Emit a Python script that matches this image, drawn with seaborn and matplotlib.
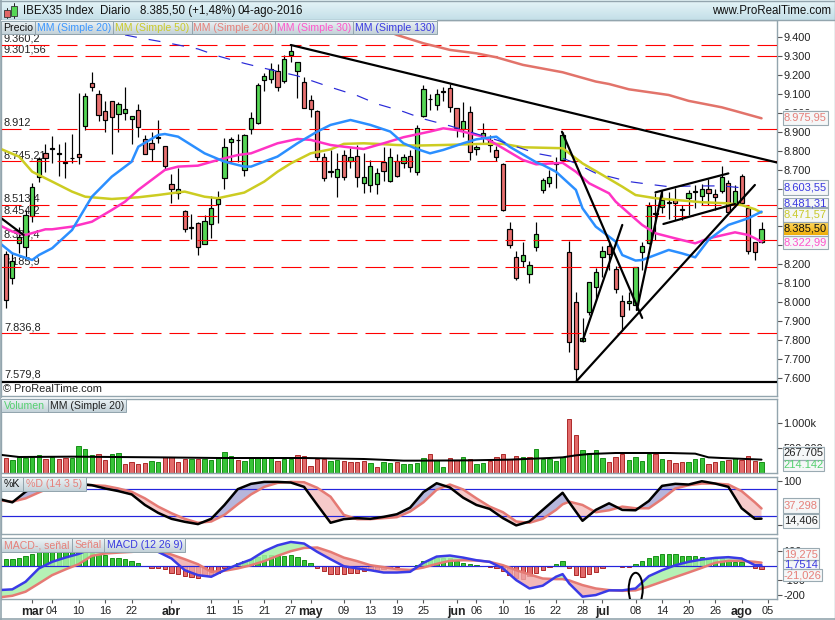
import numpy as np
import matplotlib
matplotlib.use("Agg")
import matplotlib.pyplot as plt
from matplotlib.patches import Rectangle, Ellipse
import seaborn as sns

W, H = 835, 620

# ---------- data ----------
opens = [8253,8126,8311,8290,8455,8660,8786,8810,8785,8738,8761,8781,8931,9156,9098,9012,9061,8992,9001,8966,
         9013,8860,8839,8868,8827,8624,8578,8480,8394,8417,8306,8411,8517,8658,8848,8856,8698,8913,8945,9175,
         9180,9222,9170,9304,9223,9161,9066,9008,8765,8695,8660,8776,8748,8770,8628,8621,8623,8739,8642,8744,
         8733,8774,8686,8985,9075,9041,9111,9129,9024,8916,9003,8807,8871,8857,8802,8728,8385,8237,8216,8147,
         8290,8593,8631,8735,8751,8264,7999,7797,7947,8079,8237,8299,8175,8005,7994,7985,8264,8311,8471,8505,
         8529,8540,8490,8552,8582,8563,8600,8570,8589,8628,8519,8667,8496,8316,8320]
closes = [8010,8216,8346,8459,8607,8758,8763,8812,8783,8736,8763,8765,9087,9138,8987,8962,8976,9048,9019,8985,
          8924,8784,8807,8870,8721,8600,8596,8385,8396,8290,8427,8496,8543,8818,8860,8854,8883,8971,9145,9193,
          9230,9135,9283,9328,9267,9024,9020,8765,8654,8686,8702,8660,8769,8660,8660,8719,8681,8695,8769,8668,
          8769,8712,8918,9124,9071,9100,9115,9029,8918,8955,8795,8821,8892,8828,8765,8487,8301,8126,8248,8198,
          8359,8644,8663,8731,8883,7788,7646,7809,8105,8161,8269,8253,8068,7927,8005,8184,8299,8508,8467,8540,
          8525,8522,8486,8575,8586,8596,8575,8557,8663,8475,8587,8522,8272,8264,8385]
highs = [8271,8258,8399,8487,8631,8769,8835,8878,8834,8846,8888,9103,9103,9214,9121,9062,9061,9059,9135,8985,
         9047,8883,8901,8962,8827,8677,8707,8487,8466,8425,8461,8561,8587,8865,8874,8886,8886,9003,9159,9212,
         9261,9256,9305,9358,9270,9191,9092,9015,8790,8804,8786,8804,8813,8830,8786,8751,8707,8821,8813,8783,
         8783,8804,8936,9147,9100,9124,9135,9152,9024,9059,9036,8830,8948,8883,8827,8733,8422,8271,8318,8218,
         8422,8655,8698,8769,8901,8325,8052,7915,8105,8179,8297,8311,8191,8038,8056,8184,8320,8527,8578,8584,
         8584,8601,8513,8593,8619,8624,8649,8596,8719,8645,8619,8677,8513,8320,8422]
lows = [7968,8098,8262,8227,8422,8637,8689,8733,8667,8658,8737,8728,8909,9117,8959,8901,8781,8901,8962,8835,
        8874,8783,8744,8839,8698,8526,8545,8373,8336,8251,8306,8339,8420,8596,8733,8739,8667,8886,8941,9117,
        9156,9117,9159,9270,9080,9024,8976,8751,8640,8660,8558,8645,8707,8610,8578,8584,8572,8642,8637,8663,
        8707,8686,8672,8976,9015,9015,9064,9006,8874,8874,8751,8777,8839,8795,8746,8482,8288,8117,8184,8103,
        8271,8576,8607,8601,8751,7739,7590,7790,7933,8012,8135,8170,8047,7853,7959,7959,8170,8307,8329,8469,
        8438,8434,8434,8461,8496,8513,8513,8487,8578,8473,8505,8513,8253,8223,8315]

sma20_bars = [-1,1,4,5,7,10,13,16,19,20,23,24,26,30,33,36,37,41,44,47,49,52,55,58,60,62,64,66,69,71,74,76,80,81,83,86,87,89,92,93,95,96,100,102,104,106,109,112,114]
sma20_vals = [8315,8258,8223,8249,8285,8381,8557,8663,8742,8821,8883,8888,8874,8786,8742,8716,8716,8769,8839,8901,8936,8962,8936,8901,8839,8809,8786,8804,8839,8860,8874,8821,8739,8725,8689,8593,8496,8399,8320,8249,8220,8223,8276,8258,8237,8329,8408,8443,8478]
sma50_bars = [-1,2,4,7,10,12,16,20,23,26,27,30,32,36,39,41,43,46,49,51,54,56,59,62,66,72,75,78,84,87,90,93,95,98,101,105,109,111,113,114]
sma50_vals = [8813,8769,8689,8637,8584,8557,8545,8554,8566,8580,8584,8557,8549,8579,8637,8689,8733,8786,8807,8836,8839,8836,8830,8827,8830,8836,8836,8818,8813,8733,8672,8610,8566,8549,8540,8528,8522,8513,8491,8473]
sma30_bars = [-1,1,3,6,7,10,13,16,18,20,24,26,29,32,35,37,41,44,46,49,51,54,57,60,64,66,68,72,75,78,80,84,86,88,91,92,94,96,98,101,104,106,110,112,114]
sma30_vals = [8408,8373,8355,8385,8385,8399,8425,8487,8531,8593,8698,8716,8721,8751,8777,8786,8839,8862,8857,8830,8821,8809,8839,8871,8901,8918,8909,8874,8813,8751,8728,8736,8689,8628,8575,8531,8469,8408,8364,8337,8311,8337,8369,8355,8320]
sma200_bars = [55,59,63,67,71,74,78,84,89,91,94,100,103,108,110,114]
sma200_vals = [9470,9411,9367,9332,9314,9293,9253,9214,9165,9152,9124,9094,9063,9029,9010,8971]
sma130_bars = [18,20,24,29,32,36,39,44,49,53,56,60,63,67,74,80,84,86,89,94,97,100,104,108,112]
sma130_vals = [9411,9397,9372,9337,9300,9261,9235,9195,9135,9091,9047,9006,8968,8931,8857,8786,8760,8733,8681,8637,8623,8610,8614,8614,8601]

level_vals = [9360.2,9301.56,8912,8745.21,8513.4,8454.2,8328.4,8185.9,7836.8]
level_txt = ["9.360,2","9.301,56","8.912","8.745,21","8.513,4","8.454,2","8.328,4","8.185,9","7.836,8"]
support_val = 7579.8
# trend lines: (bar, price, bar, price)
trend_lines = [(43,9358,116.4,8737),(-1,8452,2.7,8355),(83.9,8900,96,7917),(87,7795,93,8408),
               (86.1,7584,113,8619),(95.2,7959,99,8583),(98,8580,109,8680),(99.2,8413,110,8519)]

volume = [300,260,320,300,327,360,280,313,287,300,300,540,480,360,380,260,380,400,180,220,
          180,200,247,227,320,320,227,287,287,287,287,260,320,420,340,267,247,300,300,320,
          300,247,287,287,360,340,140,287,287,247,267,247,220,220,247,200,120,220,207,220,
          180,180,200,300,380,260,120,300,260,320,280,180,200,247,320,380,280,340,320,320,
          480,280,280,247,320,1080,767,460,400,460,300,220,320,380,260,320,247,380,380,280,
          260,200,220,220,280,300,180,220,247,267,300,267,340,247,214]
vol_dir = "rgggggrgrr"+"ggggrrggrr"+"rrggrrrrgr"+"gggggrgggg"+"grggrrrrrg"+"grrrrgrggr"+"ggggrggrrg"+"rggrrrrrgr"+"gggggrrggg"+"grrrggggrg"+"rrrgggrrgr"+"grrrg"
volma_bars = [-1,2,10,23,32,45,54,60,62,70,76,82,84,86,88,92,100,104,106,108,114]
volma_vals = [367,320,327,313,300,300,280,247,247,253,267,300,313,353,380,400,400,387,313,300,267.7]

osc_bars = [-1,1,3,5,7,9,11,13,15,17,19,21,23,25,27,29,31,33,35,37,39,41,43,45,47,49,51,53,55,57,59,61,63,65,67,69,71,73,75,77,79,81,83,84,85,87,89,91,93,95,97,99,101,103,105,107,109,111,113,114]
pct_k = [58.5,51.1,74.8,91.1,95.6,95.6,92.6,89.6,82.2,76.3,68.9,45.2,27.4,14.1,7.4,2.2,14.1,45.2,80.7,92.6,97,97,95.6,85.9,45.2,5.2,13.3,15.6,14.1,18.5,24.4,39.3,74,94,84.4,61.5,45.2,36.3,15.6,-0.7,8.1,34.1,60,72.6,51.1,9.6,34.1,48.9,34.1,33.3,54.1,88.1,92.6,91.1,98.5,93.3,85.9,37.8,14.1,14.4]
pct_d = [55.6,52.6,60,73.3,85.9,91.1,90.4,89.6,88.1,82.2,74.8,60,41.5,26.7,14.1,5.2,8.1,23,46.7,68.9,85.9,94.8,97,96.3,83.7,63.7,23,13.3,13.3,15.6,17.8,30.4,51.1,79.3,91.1,80,60,41.5,28.9,8.1,5.2,14.1,34.1,46.7,52.6,45.2,28.9,33.3,41.5,37.8,37.8,58.5,82.2,89.6,93.3,93.3,91.1,76.3,51.1,37.3]
macd = [-168,-163,-111,-20,25,54,79,116,138,150,161,150,93,48,-32,-66,-77,-32,7,41,98,138,161,150,93,43,-5,-20,-32,-48,-48,-43,18,61,68,54,36,25,-20,-100,-157,-138,-77,-59,-123,-213,-202,-170,-170,-157,-73,-32,2,25,41,52,57,48,2,1.75]
signal = [-218,-207,-179,-123,-66,-27,9,66,82,88,93,100,98,75,43,9,-43,-36,-20,2,30,66,98,120,123,93,54,30,2,-11,-25,-30,-14,11,32,36,34,25,2,-32,-61,-89,-93,-93,-102,-134,-157,-168,-173,-170,-143,-111,-79,-48,-16,18,32,32,25,19.3]
hist = [43,43,54,68,82,93,104,104,104,104,98,93,93,86,82,70,54,50,45,30,
        14,-2,-14,-18,-27,-50,-59,-70,-77,-84,-70,-66,-50,-16,-1,18,32,43,57,70,
        75,66,66,70,61,36,14,-14,-36,-61,-61,-61,-52,-54,-36,-32,-32,-27,-16,-9,
        -5,-2,2,32,41,48,52,48,32,20,9,1,-5,-9,-16,-36,-66,-84,-89,-73,
        -54,-34,-9,9,34,-20,-68,-77,-61,-43,-16,-1,-1,-7,-9,7,30,54,68,77,
        82,77,68,68,68,61,54,52,48,36,23,23,-5,-20,-21]

x_tick_bars = [4,7,11,15,19,25,31,35,39,43,46,51,55,59,63,68,71,75,79,83,87,90,95,99,103,107,111,115]
x_tick_txt = ["mar","04","10","16","22","abr","11","15","21","27","may","09","13","19","25","jun","06","10","16","22","28","jul","08","14","20","26","ago","05"]
months = {"mar","abr","may","jun","jul","ago"}

price_ticks = list(range(7600, 9401, 100))

# ---------- style ----------
sns.set_theme(style="white")
plt.rcParams['font.family'] = ['Liberation Sans', 'DejaVu Sans']
plt.rcParams['lines.scale_dashes'] = False
FS = 7.9
GRID = "#93a5ae"
C_UP, C_DN = "#55d655", "#e87070"
px = 0.72

fig = plt.figure(figsize=(W/100, H/100), dpi=100, facecolor="white")
def panel(x0, y0, x1, y1):
    ax = fig.add_axes([x0/W, 1-y1/H, (x1-x0)/W, (y1-y0)/H])
    ax.set_facecolor("white")
    for s in ax.spines.values():
        s.set_color(GRID); s.set_linewidth(1*px*1.4)
    ax.spines['top'].set_visible(True)
    return ax

ax_p = panel(1, 20, 777, 396)
ax_v = panel(1, 399, 777, 473)
ax_s = panel(1, 477, 777, 534)
ax_m = panel(1, 538, 777, 599)
XLIM = ((1-5.7)/6.63, (777-5.7)/6.63)

def line(ax, b, v, color, lw=2.5, **kw):
    sns.lineplot(x=b, y=v, color=color, linewidth=lw*px, ax=ax, errorbar=None, sort=False, **kw)

# ---------- price panel ----------
bars = np.arange(len(opens))
for lv, t in zip(level_vals, level_txt):
    ax_p.annotate(t, (XLIM[0], lv), xytext=(3, 1), textcoords='offset pixels', va='bottom', ha='left',
                  fontsize=FS, color="#222222", zorder=1)
ax_p.annotate("7.579,8", (XLIM[0], support_val), xytext=(3, 2), textcoords='offset pixels', va='bottom',
              ha='left', fontsize=FS, color="#222222", zorder=1)
o, c, h, l = map(np.array, (opens, closes, highs, lows))
ax_p.vlines(bars, l, h, color="black", lw=1*px*1.2, zorder=2)
up = c >= o
tops, bots = np.maximum(o, c), np.minimum(o, c)
ax_p.bar(bars, np.maximum(tops-bots, 3), bottom=bots, width=0.64,
         color=[C_UP if u else C_DN for u in up], edgecolor="black", linewidth=1.2*px, zorder=3)
for lv in level_vals:
    ax_p.axhline(lv, color="#ff0000", lw=1.1*px, dashes=(20*px, 8*px), zorder=4)
line(ax_p, sma200_bars, sma200_vals, "#e2736a", zorder=5)
line(ax_p, sma50_bars, sma50_vals, "#cccc22", zorder=5)
line(ax_p, sma30_bars, sma30_vals, "#ff33c4", zorder=5)
line(ax_p, sma20_bars, sma20_vals, "#2b8fff", zorder=5)
sns.lineplot(x=sma130_bars, y=sma130_vals, color="#2a2ad8", linewidth=1.2*px, ax=ax_p, errorbar=None,
             dashes=False, zorder=5).lines[-1].set_dashes((12*px, 12*px))
for x0, y0, x1, y1 in trend_lines:
    line(ax_p, [x0, x1], [y0, y1], "black", lw=2.2, zorder=6)
ax_p.axhline(support_val, color="black", lw=2.2*px, zorder=6)
ax_p.set_ylim(7600-18*5.279, 7600+358*5.279)
ax_p.set_yticks(price_ticks)
ax_p.set_yticklabels([f"{p//1000}.{p%1000:03d}" for p in price_ticks])
for lab, p in zip(ax_p.get_yticklabels(), price_ticks):
    if p == 8000:
        lab.set_fontweight("bold"); lab.set_fontsize(FS+0.9)

# ---------- volume panel ----------
vbars = np.arange(len(volume))
d = np.array(list(vol_dir)); vv = np.array(volume)
sns.barplot(x=vbars[d == 'g'], y=vv[d == 'g'], color="#37c437", native_scale=True, width=0.66, saturation=1,
            edgecolor="#0d8a0d", linewidth=0.9*px, errorbar=None, ax=ax_v)
sns.barplot(x=vbars[d == 'r'], y=vv[d == 'r'], color="#e26a6a", native_scale=True, width=0.66, saturation=1,
            edgecolor="#a81e1e", linewidth=0.9*px, errorbar=None, ax=ax_v)
line(ax_v, volma_bars, volma_vals, "black", lw=2.0, zorder=5)
ax_v.set_ylim(0, 1480)
ax_v.set_yticks([500, 1000]); ax_v.set_yticklabels(["500.000", "1.000k"])

# ---------- stochastic panel ----------
kk, dd = np.array(pct_k), np.array(pct_d)
ax_s.fill_between(osc_bars, kk, dd, where=kk >= dd, interpolate=True, color="#b6b6dc", lw=0, zorder=1)
ax_s.fill_between(osc_bars, kk, dd, where=kk <= dd, interpolate=True, color="#f6caca", lw=0, zorder=1)
ax_s.axhline(80, color="#2424dc", lw=1.2*px, zorder=2)
ax_s.axhline(20, color="#2424dc", lw=1.2*px, zorder=2)
line(ax_s, osc_bars, pct_d, "#e57a74", zorder=3)
line(ax_s, osc_bars, pct_k, "black", zorder=4)
ax_s.set_ylim(-20, 108)
ax_s.set_yticks([0, 100]); ax_s.set_yticklabels(["0", "100"])
ax_s.get_yticklabels()[1].set_fontweight("bold"); ax_s.get_yticklabels()[1].set_fontsize(FS+0.9)

# ---------- MACD panel ----------
hh = np.array(hist); hb = np.arange(len(hist))
sns.barplot(x=hb[hh >= 0], y=hh[hh >= 0], color="#37c437", native_scale=True, width=0.66, saturation=1,
            edgecolor="#0d8a0d", linewidth=0.9*px, errorbar=None, ax=ax_m)
sns.barplot(x=hb[hh < 0], y=hh[hh < 0], color="#e26a6a", native_scale=True, width=0.66, saturation=1,
            edgecolor="#a81e1e", linewidth=0.9*px, errorbar=None, ax=ax_m)
mm, ss = np.array(macd), np.array(signal)
ax_m.fill_between(osc_bars, mm, ss, where=mm >= ss, interpolate=True, color="#a8f0a8", alpha=0.85, lw=0, zorder=3)
ax_m.fill_between(osc_bars, mm, ss, where=mm <= ss, interpolate=True, color="#f0a8a8", alpha=0.8, lw=0, zorder=3)
ax_m.axhline(0, color="#2424dc", lw=1.2*px, zorder=4)
line(ax_m, osc_bars, signal, "#e57a74", zorder=5)
line(ax_m, osc_bars, macd, "#3a3ae6", zorder=6)
ax_m.set_ylim(-229, 188)
ax_m.set_yticks([-200, -100, 100]); ax_m.set_yticklabels(["-200", "-100", "100"])

# ---------- shared axis formatting ----------
for ax in (ax_p, ax_v, ax_s, ax_m):
    ax.set_xlim(*XLIM)
    ax.set_xlabel(""); ax.set_ylabel("")
    ax.yaxis.tick_right()
    ax.tick_params(axis='y', right=True, left=False, length=3.5, width=0.8, color="#555555",
                   labelsize=FS, pad=1, labelcolor="#222222")
    if ax is not ax_m:
        ax.tick_params(axis='x', bottom=False, labelbottom=False)
ax_m.set_xticks(x_tick_bars)
ax_m.set_xticklabels(x_tick_txt)
ax_m.tick_params(axis='x', bottom=True, length=3, width=0.8, color="#555555", labelsize=FS, pad=2, labelcolor="#222222")
for lab in ax_m.get_xticklabels():
    if lab.get_text() in months:
        lab.set_fontweight("bold"); lab.set_fontsize(FS+0.9)

# ---------- chrome drawn in figure pixels ----------
ov = fig.add_axes([0, 0, 1, 1], zorder=20)
ov.set_axis_off(); ov.patch.set_alpha(0)
ov.set_xlim(0, W); ov.set_ylim(H, 0); ov.set_autoscale_on(False)

def grad(x0, y0, x1, y1, top, bottom, z=1):
    t = np.array(matplotlib.colors.to_rgb(top)); b = np.array(matplotlib.colors.to_rgb(bottom))
    arr = np.linspace(0, 1, 24)[:, None, None]*(b-t)+t
    ov.imshow(arr, extent=(x0, x1, y1, y0), aspect='auto', origin='upper', zorder=z, interpolation='bilinear')

def tab(x0, x1, y0, y1, text, color):
    grad(x0, y0, x1, y1, "#eef4f6", "#c4d2d9", z=2)
    ov.add_patch(Rectangle((x0, y0), x1-x0, y1-y0, fc="none", ec=GRID, lw=1*px, zorder=3))
    ov.text((x0+x1)/2, (y0+y1)/2, text, color=color, fontsize=FS-0.3, ha='center', va='center', zorder=4)

def vbox(y0, y1, text, color, x0=782.7, x1=827.7, top="#f5f7f8", bottom="#f5f7f8"):
    grad(x0, y0, x1, y1, top, bottom, z=2)
    ov.add_patch(Rectangle((x0, y0), x1-x0, y1-y0, fc="none", ec="#9aaab2", lw=1.1*px, zorder=3))
    ov.text((x0+x1)/2, (y0+y1)/2, text, color=color, fontsize=FS+0.1, ha='center', va='center', zorder=4)

# header
grad(0, 0, W, 20, "#e6f5f8", "#c4dfe8", z=1)
ov.plot([0, W], [0.5, 0.5], color=GRID, lw=1, zorder=2)
ov.plot([0, W], [20, 20], color=GRID, lw=1, zorder=2)
ov.plot([0.5, 0.5], [0, H], color=GRID, lw=1.2, zorder=2)
ov.plot([W-0.5, W-0.5], [0, H], color=GRID, lw=1, zorder=2)
ov.plot([0, W], [H-1, H-1], color=GRID, lw=1.2, zorder=2)
ov.plot([6.7, 6.7], [8, 18], color="#222222", lw=0.7, zorder=3)
ov.add_patch(Rectangle((3.5, 10), 6.5, 7, fc="#e06666", ec="#333333", lw=0.6, zorder=4))
ov.plot([14, 14], [3, 18], color="#222222", lw=0.7, zorder=3)
ov.add_patch(Rectangle((11, 5.5), 6, 10, fc="#55d655", ec="#333333", lw=0.6, zorder=4))
for xx, t in [(23, "IBEX35 Index"), (100, "Diario"), (140, "8.385,50 (+1,48%)"), (238, "04-ago-2016")]:
    ov.text(xx, 11, t, fontsize=FS+0.4, color="#111111", va='center', ha='left', zorder=4)
ov.text(831.5, 11, "www.ProRealTime.com", fontsize=FS+0.4, color="#111111", va='center', ha='right', zorder=4)

# legends
for a, b, t, col in [(1, 35, "Precio", "#111111"), (35, 112.7, "MM (Simple 20)", "#3b96ff"),
                     (112.7, 191.7, "MM (Simple 50)", "#c9c92a"), (191.7, 275, "MM (Simple 200)", "#e6807a"),
                     (275, 353.3, "MM (Simple 30)", "#ff55cc"), (353.3, 437.3, "MM (Simple 130)", "#3a3ae0")]:
    tab(a, b, 21, 34.3, t, col)
for a, b, t, col in [(1, 47.7, "Volumen", "#55d070"), (47.7, 125.7, "MM (Simple 20)", "#222222")]:
    tab(a, b, 399, 412.3, t, col)
for a, b, t, col in [(1, 22.7, "%K", "#111111"), (22.7, 85.7, "%D (14 3 5)", "#e6807a")]:
    tab(a, b, 476.7, 490.7, t, col)
for a, b, t, col in [(1, 71.7, "MACD-, señal", "#e6807a"), (71.7, 104, "Señal", "#e6807a"),
                     (104, 185.3, "MACD (12 26 9)", "#3a3ae0")]:
    tab(a, b, 538.3, 551.7, t, col)
ov.text(3, 389, "© ProRealTime.com", fontsize=FS, color="#222222", va='center', ha='left', zorder=4)

# right-hand value boxes
vbox(110.7, 125.3, "8.975,95", "#e6807a")
vbox(180, 195, "8.603,55", "#3a3ae0")
vbox(198, 208, "8.481,31", "#3a3ae0")
vbox(207.3, 221.7, "8.471,57", "#c9c92a")
vbox(221.7, 235.7, "8.385,50", "#111111", top="#ffd860", bottom="#eeaa00")
vbox(236, 249.3, "8.322,99", "#ff55cc")
vbox(446.7, 460, "267.705", "#222222", x1=824.3)
vbox(460, 471, "214.142", "#55d070", x1=824.3)
vbox(498.3, 513, "37,298", "#e6807a", x1=819)
vbox(514, 527.7, "14,406", "#222222", x1=819)
vbox(548.3, 560, "19,275", "#e6807a", x1=819)
vbox(560, 569.3, "1,7514", "#3a3ae0", x1=819)
vbox(569, 581, "-21,026", "#e6807a", x1=822)

# ellipse mark in the MACD panel, clipped by that panel
ax_m.add_patch(Ellipse((635.7, 589.3), 14, 33, transform=ov.transData, fc="none", ec="black", lw=2*px, zorder=8))

fig.savefig("out.png", dpi=100)
